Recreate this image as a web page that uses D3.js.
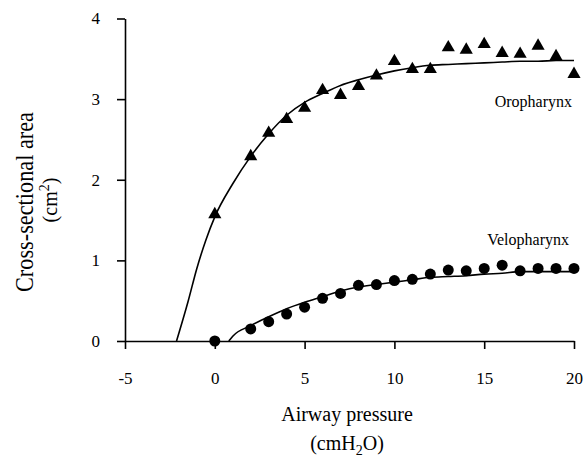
<!DOCTYPE html>
<html>
<head>
<meta charset="utf-8">
<script src="https://cdn.jsdelivr.net/npm/d3@7"></script>
<style>
  html, body { margin: 0; padding: 0; background: #fff; }
  svg { display: block; }
  text { font-family: 'Liberation Serif', 'DejaVu Serif', serif; fill: #000; }
  .axis path, .axis line { stroke: #000; stroke-width: 1.6; }
</style>
</head>
<body>
<svg width="583" height="457"></svg>
<script>
// measured points (airway pressure in cmH2O, area in cm2)
const pressure = [0, 2, 3, 4, 5, 6, 7, 8, 9, 10, 11, 12, 13, 14, 15, 16, 17, 18, 19, 20];
const oroArea = [1.57, 2.29, 2.58, 2.75, 2.89, 3.11, 3.05, 3.16, 3.29, 3.47, 3.37, 3.37, 3.64, 3.61, 3.68, 3.57, 3.56, 3.66, 3.53, 3.31];
const veloArea = [0.0, 0.15, 0.24, 0.335, 0.42, 0.53, 0.59, 0.69, 0.70, 0.75, 0.765, 0.83, 0.88, 0.87, 0.90, 0.94, 0.87, 0.90, 0.90, 0.90];

// fitted curves
const oroFitX = [-2.13, -1.5, -1, -0.5, 0, 1, 2, 3, 4, 5, 6, 7, 8, 9, 10, 11, 12, 13, 14, 15, 16, 17, 18, 19, 20];
const oroFitY = [0, 0.48, 0.9, 1.25, 1.54, 1.95, 2.29, 2.57, 2.8, 2.96, 3.07, 3.17, 3.24, 3.3, 3.35, 3.39, 3.42, 3.43, 3.44, 3.45, 3.46, 3.47, 3.47, 3.48, 3.48];
const veloFitX = [0.78, 1, 2, 3, 4, 5, 6, 7, 8, 9, 10, 11, 12, 13, 14, 15, 16, 17, 18, 19, 20];
const veloFitY = [0, 0.06, 0.19, 0.3, 0.4, 0.48, 0.55, 0.62, 0.67, 0.7, 0.73, 0.76, 0.79, 0.8, 0.81, 0.83, 0.84, 0.86, 0.86, 0.86, 0.86];

const xTicks = [-5, 0, 5, 10, 15, 20];
const yTicks = [0, 1, 2, 3, 4];

const serif = "'Liberation Serif', 'DejaVu Serif', serif";
const svg = d3.select('svg');

const x = d3.scaleLinear().domain([-5, 20]).range([125, 574]);
const y = d3.scaleLinear().domain([0, 4]).range([341, 18.5]);

svg.append('g')
  .attr('class', 'axis')
  .attr('transform', 'translate(0,341)')
  .call(d3.axisBottom(x).tickValues(xTicks).tickSize(8).tickSizeOuter(0).tickPadding(23).tickFormat((d) => String(d)))
  .attr('font-family', serif)
  .attr('font-size', 17);

svg.append('g')
  .attr('class', 'axis')
  .attr('transform', 'translate(125,0)')
  .call(d3.axisLeft(y).tickValues(yTicks).tickSize(8).tickSizeOuter(0).tickPadding(17).tickFormat((d) => String(d)))
  .attr('font-family', serif)
  .attr('font-size', 17);

const line = d3.line()
  .curve(d3.curveMonotoneX)
  .x((d) => x(d[0]))
  .y((d) => y(d[1]));

svg.append('path')
  .attr('d', line(d3.zip(oroFitX, oroFitY)))
  .attr('fill', 'none')
  .attr('stroke', '#000')
  .attr('stroke-width', 1.6);

svg.append('path')
  .attr('d', line(d3.zip(veloFitX, veloFitY)))
  .attr('fill', 'none')
  .attr('stroke', '#000')
  .attr('stroke-width', 1.6);

svg.append('g')
  .selectAll('path')
  .data(d3.zip(pressure, oroArea))
  .enter()
  .append('path')
  .attr('d', d3.symbol(d3.symbolTriangle, 75))
  .attr('transform', (d) => `translate(${x(d[0])},${y(d[1])})`)
  .attr('fill', '#000');

svg.append('g')
  .selectAll('circle')
  .data(d3.zip(pressure, veloArea))
  .enter()
  .append('circle')
  .attr('cx', (d) => x(d[0]))
  .attr('cy', (d) => y(d[1]))
  .attr('r', 5.5)
  .attr('fill', '#000');

// series labels
svg.append('text')
  .attr('x', 572).attr('y', 107)
  .attr('text-anchor', 'end')
  .attr('font-size', 16)
  .text('Oropharynx');

svg.append('text')
  .attr('x', 569).attr('y', 245)
  .attr('text-anchor', 'end')
  .attr('font-size', 16)
  .text('Velopharynx');

// axis titles
svg.append('text')
  .attr('x', 347).attr('y', 421)
  .attr('text-anchor', 'middle')
  .attr('font-size', 20)
  .text('Airway pressure');

const xt2 = svg.append('text')
  .attr('x', 347).attr('y', 450)
  .attr('text-anchor', 'middle')
  .attr('font-size', 20);
xt2.append('tspan').text('(cmH');
xt2.append('tspan').attr('font-size', 14).attr('dy', 5).text('2');
xt2.append('tspan').attr('dy', -5).text('O)');

svg.append('text')
  .attr('transform', 'translate(33,202) rotate(-90)')
  .attr('text-anchor', 'middle')
  .attr('font-size', 25)
  .attr('textLength', 180)
  .attr('lengthAdjust', 'spacingAndGlyphs')
  .text('Cross-sectional area');

const yt2 = svg.append('text')
  .attr('transform', 'translate(57,200) rotate(-90)')
  .attr('text-anchor', 'middle')
  .attr('font-size', 20);
yt2.append('tspan').text('(cm');
yt2.append('tspan').attr('font-size', 14).attr('dy', -8).text('2');
yt2.append('tspan').attr('dy', 8).text(')');
</script>
</body>
</html>
